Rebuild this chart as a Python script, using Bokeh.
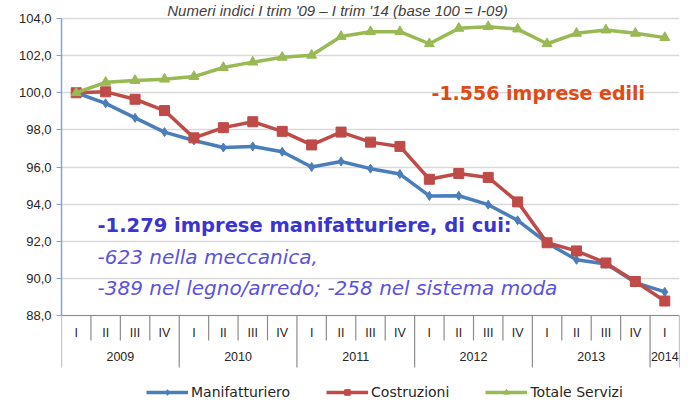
from bokeh.plotting import figure
from bokeh.models import Range1d, FixedTicker, Label, Legend, LegendItem
from bokeh.core.properties import value
from bokeh.embed import file_html
from bokeh.resources import INLINE

# ---------------- data ----------------
quarters = ["I", "II", "III", "IV", "I", "II", "III", "IV", "I", "II", "III", "IV",
            "I", "II", "III", "IV", "I", "II", "III", "IV", "I"]
years = ["2009", "2010", "2011", "2012", "2013", "2014"]
year_counts = [4, 4, 4, 4, 4, 1]

manifatturiero = [100.0, 99.43, 98.65, 97.88, 97.43, 97.05, 97.11, 96.82, 96.0, 96.3, 95.91,
                  95.62, 94.44, 94.45, 93.97, 93.13, 91.91, 91.0, 90.78, 89.77, 89.27]
costruzioni = [100.0, 100.05, 99.65, 99.04, 97.57, 98.12, 98.44, 97.92, 97.19, 97.88, 97.34,
               97.11, 95.34, 95.65, 95.44, 94.12, 91.92, 91.48, 90.83, 89.83, 88.78]
servizi = [100.0, 100.56, 100.66, 100.73, 100.87, 101.36, 101.65, 101.91, 102.02, 103.03, 103.29,
           103.29, 102.64, 103.47, 103.56, 103.43, 102.64, 103.2, 103.38, 103.2, 102.97]

y_ticks = [88, 90, 92, 94, 96, 98, 100, 102, 104]
y_labels = ["88,0", "90,0", "92,0", "94,0", "96,0", "98,0", "100,0", "102,0", "104,0"]

title_text = "Numeri indici I trim '09 \u2013 I trim '14 (base 100 = I-09)"
note_edili = "-1.556 imprese edili"
note_manif = "-1.279 imprese manifatturiere, di cui:"
note_mecc = "-623 nella meccanica,"
note_legno = "-389 nel legno/arredo; -258 nel sistema moda"

# ---------------- layout (pixels) ----------------
W, H = 683, 402
B_LEFT, B_RIGHT = 61, 4
TOP_PX = 18              # pixels above the 104 line (title band)
AXIS_PX = 297            # pixels from 104 down to 88
BELOW_PX = H - TOP_PX - AXIS_PX   # pixels below the 88 baseline
Q_SEP, Y_SEP, Q_LAB, Y_LAB = 25, 52, 17.5, 41
TITLE_CX = 276           # title centre, pixels from the plot's left edge

# ---------------- derived positions ----------------
n = len(quarters)
xs = [i + 0.5 for i in range(n)]
bounds = list(range(n + 1))
year_bounds = [0]
for c in year_counts:
    year_bounds.append(year_bounds[-1] + c)
year_centers = [(year_bounds[k] + year_bounds[k + 1]) / 2 for k in range(len(years))]

y0, y1 = y_ticks[0], y_ticks[-1]
ppu = AXIS_PX / (y1 - y0)          # pixels per data unit (y)
ppx = (W - B_LEFT - B_RIGHT) / n   # pixels per category (x)
ymin = y0 - BELOW_PX / ppu
ymax = y1 + TOP_PX / ppu


def below(px):
    return y0 - px / ppu


BLUE = "#4A7EBB"
RED = "#BE4B48"
GREEN = "#98B954"
AX_GRAY = "#8C8C8C"
TXT = "#262626"

p = figure(width=W, height=H, output_backend="svg", toolbar_location=None,
           x_range=Range1d(0, n), y_range=Range1d(ymin, ymax),
           min_border_left=B_LEFT, min_border_right=B_RIGHT, min_border_top=0,
           min_border_bottom=0)
p.outline_line_color = None
p.background_fill_color = "white"
p.border_fill_color = "white"
p.xaxis.visible = False
p.xgrid.visible = False

# y axis
p.yaxis.ticker = FixedTicker(ticks=y_ticks)
p.yaxis.bounds = (y0, y1)
p.yaxis.major_label_overrides = {t: l for t, l in zip(y_ticks, y_labels)}
p.yaxis.axis_line_color = "#7FA6D8"
p.yaxis.axis_line_width = 1.5
p.yaxis.major_tick_line_color = "#7FA6D8"
p.yaxis.major_tick_out = 5
p.yaxis.major_tick_in = 0
p.yaxis.minor_tick_line_color = None
p.yaxis.major_label_standoff = 5
p.yaxis.major_label_text_font = "Liberation Sans"
p.yaxis.major_label_text_font_size = "13px"
p.yaxis.major_label_text_color = TXT

p.ygrid.ticker = FixedTicker(ticks=y_ticks)
p.ygrid.grid_line_color = "#D9D9D9"
p.ygrid.grid_line_width = 1.5

# category axis: baseline, separators and labels
p.segment(x0=[0], y0=[y0], x1=[n], y1=[y0], line_color=AX_GRAY, line_width=1.2)
sep_ends = [below(Y_SEP) if b in year_bounds else below(Q_SEP) for b in bounds]
p.segment(x0=bounds, y0=[y0] * len(bounds), x1=bounds, y1=sep_ends,
          line_color=AX_GRAY, line_width=1.2)
p.text(x=xs, y=[below(Q_LAB)] * n, text=quarters, text_font=value("Liberation Sans"),
       text_font_size="12.5px", text_color=TXT, text_align="center", text_baseline="middle")
p.text(x=year_centers, y=[below(Y_LAB)] * len(years), text=years,
       text_font=value("Liberation Sans"), text_font_size="12.5px", text_color=TXT,
       text_align="center", text_baseline="middle")

# title
p.text(x=[TITLE_CX / ppx], y=[y1 + (TOP_PX - 1) / ppu], text=[title_text],
       text_font=value("Liberation Sans"), text_font_style="italic", text_font_size="15px",
       text_color="#404040", text_align="center", text_baseline="top")

# series
l1 = p.line(xs, manifatturiero, line_color=BLUE, line_width=3.5)
m1 = p.scatter(xs, manifatturiero, marker="diamond", size=9, fill_color=BLUE, line_color=BLUE)
l2 = p.line(xs, costruzioni, line_color=RED, line_width=3.5)
m2 = p.scatter(xs, costruzioni, marker="square", size=10, fill_color=RED, line_color=RED)
l3 = p.line(xs, servizi, line_color=GREEN, line_width=3.5)
m3 = p.scatter(xs, servizi, marker="triangle", size=10, fill_color=GREEN, line_color=GREEN)

legend = Legend(items=[LegendItem(label="Manifatturiero", renderers=[l1, m1]),
                       LegendItem(label="Costruzioni", renderers=[l2, m2]),
                       LegendItem(label="Totale Servizi", renderers=[l3, m3])],
                orientation="horizontal", location=(85, 0),
                glyph_width=42, glyph_height=14, label_standoff=3, spacing=36,
                padding=0, margin=0, label_height=20,
                label_text_font="DejaVu Sans", label_text_font_size="14px",
                label_text_color=TXT, border_line_color=None, background_fill_alpha=0)
p.add_layout(legend, "center")

# notes
p.add_layout(Label(x=370, y=100.0, x_units="screen", y_units="data", text=note_edili,
                   text_font="DejaVu Sans", text_font_style="bold", text_font_size="19px",
                   text_color="#E04A14", text_baseline="middle"))
p.add_layout(Label(x=36, y=92.83, x_units="screen", y_units="data", text=note_manif,
                   text_font="DejaVu Sans", text_font_style="bold", text_font_size="19.5px",
                   text_color="#3A34D0", text_baseline="middle"))
p.add_layout(Label(x=36, y=91.15, x_units="screen", y_units="data", text=note_mecc,
                   text_font="DejaVu Sans", text_font_style="italic", text_font_size="20px",
                   text_color="#5A52E0", text_baseline="middle"))
p.add_layout(Label(x=36, y=89.48, x_units="screen", y_units="data", text=note_legno,
                   text_font="DejaVu Sans", text_font_style="italic", text_font_size="20px",
                   text_color="#5A52E0", text_baseline="middle"))

open("out.html", "w").write(file_html(p, INLINE))
